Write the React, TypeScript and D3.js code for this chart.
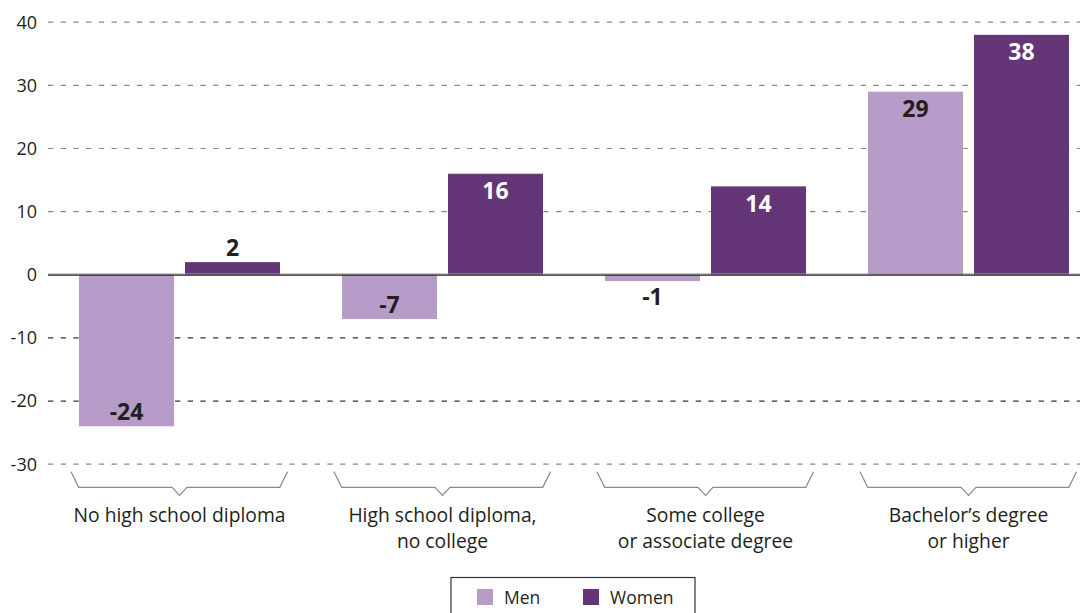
import React from "react";
import * as d3 from "d3";

const categories = [
  ["No high school diploma"],
  ["High school diploma,", "no college"],
  ["Some college", "or associate degree"],
  ["Bachelor\u2019s degree", "or higher"],
];
const seriesNames = ["Men", "Women"];
const menValues = [-24, -7, -1, 29];
const womenValues = [2, 16, 14, 38];
const yTicks = [40, 30, 20, 10, 0, -10, -20, -30];

const colors = { Men: "#b79bc8", Women: "#643677" };
const FONT = "'Open Sans', 'Noto Sans', sans-serif";

export default function App() {
  const W = 1084;
  const H = 613;
  const y = d3.scaleLinear().domain([-30, 40]).range([464.2, 22.2]);
  const x0 = d3
    .scaleBand<number>()
    .domain(d3.range(categories.length))
    .range([48, 1100])
    .paddingInner(62 / 263)
    .paddingOuter(31 / 263);
  const x1 = d3
    .scaleBand<string>()
    .domain(seriesNames)
    .range([0, x0.bandwidth()])
    .paddingInner(11 / 106)
    .paddingOuter(0);

  const data = categories.map((c, i) => ({
    i,
    values: [
      { key: "Men", v: menValues[i] },
      { key: "Women", v: womenValues[i] },
    ],
  }));

  const gridColor = (t: number) => (t === -10 || t === -20 ? "#333" : "#888");

  return (
    <svg
      width={W}
      height={H}
      style={{ position: "absolute", left: 0, top: 0, background: "#fff" }}
      fontFamily={FONT}
    >
      {/* gridlines */}
      {yTicks
        .filter((t) => t !== 0)
        .map((t) => (
          <line
            key={t}
            x1={48}
            x2={1080}
            y1={y(t)}
            y2={y(t)}
            stroke={gridColor(t)}
            strokeWidth={1.2}
            strokeDasharray="5.3 7.4"
          />
        ))}
      {/* y tick labels */}
      {yTicks.map((t) => (
        <text
          key={"l" + t}
          x={37}
          y={y(t) + 6.3}
          textAnchor="end"
          fontSize={18}
          fill="#231f20"
        >
          {t}
        </text>
      ))}
      {/* bars */}
      {data.map((g) => (
        <g key={g.i} transform={`translate(${x0(g.i)},0)`}>
          {g.values.map((d) => (
            <rect
              key={d.key}
              x={x1(d.key)}
              width={x1.bandwidth()}
              y={Math.min(y(d.v), y(0))}
              height={Math.abs(y(d.v) - y(0))}
              fill={colors[d.key as "Men" | "Women"]}
            />
          ))}
        </g>
      ))}
      {/* zero line */}
      <line x1={48} x2={1080} y1={y(0) - 0.8} y2={y(0) - 0.8} stroke="#999" strokeWidth={1} />
      <line x1={48} x2={1080} y1={y(0) + 0.4} y2={y(0) + 0.4} stroke="#231f20" strokeWidth={1.4} />
      {/* value labels */}
      {data.map((g) =>
        g.values.map((d) => {
          const inside = Math.abs(d.v) >= 4;
          const cx = (x0(g.i) as number) + (x1(d.key) as number) + x1.bandwidth() / 2;
          let ty: number;
          if (d.v >= 0) ty = inside ? y(d.v) + 25.5 : y(d.v) - 6.5;
          else ty = inside ? y(d.v) - 6 : y(d.v) + 24;
          const fill = inside && d.key === "Women" ? "#ffffff" : "#231f20";
          return (
            <text
              key={g.i + d.key}
              x={cx}
              y={ty}
              textAnchor="middle"
              fontSize={23}
              fontWeight={700}
              fill={fill}
            >
              {d.v}
            </text>
          );
        })
      )}
      {/* brackets and category labels */}
      {categories.map((lines, i) => {
        const left = (x0(i) as number) - 8;
        const right = (x0(i) as number) + x0.bandwidth() + 7.5;
        const c = (x0(i) as number) + x0.bandwidth() / 2;
        const top = 471.7;
        const mid = 487.3;
        const path = `M${left},${top} L${left + 7.7},${mid} L${c - 7.5},${mid} L${c},${mid + 8} L${c + 7.5},${mid} L${right - 7.7},${mid} L${right},${top}`;
        return (
          <g key={"c" + i}>
            <path d={path} fill="none" stroke="#8c8b80" strokeWidth={1.2} />
            {lines.map((ln, j) => (
              <text
                key={j}
                x={c}
                y={522 + j * 25.5}
                textAnchor="middle"
                fontSize={19.3}
                fill="#231f20"
              >
                {ln}
              </text>
            ))}
          </g>
        );
      })}
      {/* legend */}
      <rect x={451} y={577.5} width={244} height={50} fill="#fff" stroke="#333" strokeWidth={1.2} />
      {seriesNames.map((s, i) => {
        const sx = i === 0 ? 477 : 583;
        return (
          <g key={s}>
            <rect x={sx} y={589} width={16} height={16} fill={colors[s as "Men" | "Women"]} />
            <text x={sx + 27} y={603.5} fontSize={17.5} fill="#231f20">
              {s}
            </text>
          </g>
        );
      })}
    </svg>
  );
}
